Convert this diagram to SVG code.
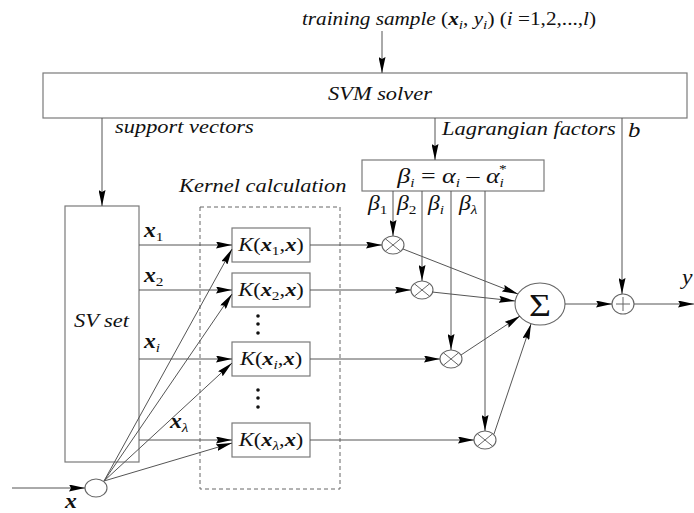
<svg xmlns="http://www.w3.org/2000/svg" width="694" height="513" viewBox="0 0 694 513">
<style>
.box{fill:#fff;stroke:#7a7a7a;stroke-width:1.2}
.dash{fill:none;stroke:#666;stroke-width:1;stroke-dasharray:4 3}
.ln{fill:none;stroke:#555;stroke-width:1}
.arr{marker-end:url(#ah)}
.nd{fill:#fff;stroke:#666;stroke-width:1.1}
.cr{fill:none;stroke:#666;stroke-width:1}
.t{font-family:"Liberation Serif","Times New Roman",serif;fill:#111;font-size:19px}
.it{font-style:italic}
.bi{font-style:italic;font-weight:bold}
.sub{font-size:13px;font-style:normal;font-weight:normal}
.subi{font-size:13px;font-style:italic;font-weight:normal}
.dot{fill:#111}
</style>
<defs>
<marker id="ah" markerUnits="userSpaceOnUse" markerWidth="16" markerHeight="7" refX="16" refY="3.5" orient="auto">
<path d="M0,0 L16,3.5 L0,7 L2,3.5 z" fill="#000"/>
</marker>
</defs>

<g id="training">
<text class="t" transform="scale(1.18 1)" x="255.9" y="25" style="font-size:18px"><tspan class="it">training sample </tspan>(<tspan class="bi">x</tspan><tspan class="subi" dy="4">i</tspan><tspan dy="-4">, </tspan><tspan class="it">y</tspan><tspan class="subi" dy="4">i</tspan><tspan dy="-4">) (</tspan><tspan class="it">i</tspan> =1,2,...,<tspan class="it">l</tspan>)</text>
</g>

<g id="svm-solver">
<rect class="box" x="43" y="73" width="644" height="45"/>
<text class="t it" transform="scale(1.18 1)" x="322" y="100" text-anchor="middle">SVM solver</text>
</g>

<g id="labels">
<text class="t it" transform="scale(1.18 1)" x="97.5" y="133">support vectors</text>
<text class="t it" transform="scale(1.18 1)" x="374.6" y="135">Lagrangian factors</text>
<text class="t it" transform="scale(1.18 1)" x="532.2" y="137" style="font-size:21px">b</text>
<text class="t bi" transform="scale(1.18 1)" x="122" y="237" style="font-size:20px">x<tspan class="sub" dy="4">1</tspan></text>
<text class="t bi" transform="scale(1.18 1)" x="122" y="282" style="font-size:20px">x<tspan class="sub" dy="4">2</tspan></text>
<text class="t bi" transform="scale(1.18 1)" x="122" y="348" style="font-size:20px">x<tspan class="subi" dy="4">i</tspan></text>
<text class="t bi" transform="scale(1.18 1)" x="144.1" y="428" style="font-size:20px">x<tspan class="subi" dy="4">λ</tspan></text>
<text class="t bi" transform="scale(1.18 1)" x="55.1" y="508" style="font-size:20px">x</text>
<text class="t it" transform="scale(1.18 1)" x="311.9" y="210" style="font-size:20px">β<tspan class="sub" dy="4">1</tspan></text>
<text class="t it" transform="scale(1.18 1)" x="336.4" y="210" style="font-size:20px">β<tspan class="sub" dy="4">2</tspan></text>
<text class="t it" transform="scale(1.18 1)" x="362.7" y="210" style="font-size:20px">β<tspan class="subi" dy="4">i</tspan></text>
<text class="t it" transform="scale(1.18 1)" x="389" y="210" style="font-size:20px">β<tspan class="subi" dy="4">λ</tspan></text>
<text class="t it" transform="scale(1.18 1)" x="578" y="284" style="font-size:20px">y</text>
</g>

<g id="sv-set">
<rect class="box" x="65" y="206" width="74" height="256"/>
<text class="t it" transform="scale(1.18 1)" x="62.7" y="327">SV set</text>
</g>

<g id="kernel-calculation">
<rect class="dash" x="200" y="207" width="140" height="282"/>
<text class="t it" transform="scale(1.18 1)" x="151.7" y="192">Kernel calculation</text>
</g>

<g id="k1">
<rect class="box" x="232" y="228" width="78" height="34"/>
<text class="t" transform="scale(1.18 1)" x="229.7" y="251" text-anchor="middle"><tspan class="it">K</tspan>(<tspan class="bi">x</tspan><tspan class="sub" dy="4">1</tspan><tspan dy="-4">,</tspan><tspan class="bi">x</tspan>)</text>
</g>
<g id="k2">
<rect class="box" x="232" y="273" width="78" height="34"/>
<text class="t" transform="scale(1.18 1)" x="229.7" y="296" text-anchor="middle"><tspan class="it">K</tspan>(<tspan class="bi">x</tspan><tspan class="sub" dy="4">2</tspan><tspan dy="-4">,</tspan><tspan class="bi">x</tspan>)</text>
</g>
<g id="ki">
<rect class="box" x="232" y="342" width="78" height="34"/>
<text class="t" transform="scale(1.18 1)" x="229.7" y="365" text-anchor="middle"><tspan class="it">K</tspan>(<tspan class="bi">x</tspan><tspan class="subi" dy="4">i</tspan><tspan dy="-4">,</tspan><tspan class="bi">x</tspan>)</text>
</g>
<g id="kl">
<rect class="box" x="232" y="423" width="78" height="34"/>
<text class="t" transform="scale(1.18 1)" x="229.7" y="446" text-anchor="middle"><tspan class="it">K</tspan>(<tspan class="bi">x</tspan><tspan class="subi" dy="4">λ</tspan><tspan dy="-4">,</tspan><tspan class="bi">x</tspan>)</text>
</g>
<g id="dots">
<circle class="dot" cx="258" cy="316" r="1.8"/><circle class="dot" cx="258" cy="324" r="1.8"/><circle class="dot" cx="258" cy="333" r="1.8"/>
<circle class="dot" cx="258" cy="390" r="1.8"/><circle class="dot" cx="258" cy="398" r="1.8"/><circle class="dot" cx="258" cy="407" r="1.8"/>
</g>

<g id="beta-box">
<rect class="box" x="362" y="160" width="182" height="31"/>
<text class="t it" transform="scale(1.18 1)" x="383.1" y="183" text-anchor="middle" style="font-size:22px">β<tspan class="subi" dy="4">i</tspan><tspan dy="-4" style="font-style:normal"> = </tspan>α<tspan class="subi" dy="4">i</tspan><tspan dy="-4" style="font-style:normal"> – </tspan>α<tspan class="subi" dy="4">i</tspan><tspan class="sub" dx="-4" dy="-14">*</tspan></text>
</g>

<g id="m1"><ellipse class="nd" cx="393" cy="245" rx="11" ry="9"/><path class="cr" d="M385.2,238.6 L400.8,251.4 M385.2,251.4 L400.8,238.6"/></g>
<g id="m2"><ellipse class="nd" cx="422" cy="290" rx="11" ry="9"/><path class="cr" d="M414.2,283.6 L429.8,296.4 M414.2,296.4 L429.8,283.6"/></g>
<g id="m3"><ellipse class="nd" cx="451" cy="359" rx="11" ry="9"/><path class="cr" d="M443.2,352.6 L458.8,365.4 M443.2,365.4 L458.8,352.6"/></g>
<g id="m4"><ellipse class="nd" cx="485" cy="440" rx="11" ry="9"/><path class="cr" d="M477.2,433.6 L492.8,446.4 M477.2,446.4 L492.8,433.6"/></g>

<g id="sum">
<ellipse class="nd" cx="540" cy="304" rx="25" ry="21"/>
<text class="t" transform="scale(1.18 1)" x="457.6" y="316" text-anchor="middle" style="font-size:32px">Σ</text>
</g>
<g id="plus">
<ellipse class="nd" cx="623" cy="304" rx="11" ry="10"/>
<path class="cr" d="M616,304 L630,304 M623,297 L623,311"/>
</g>
<g id="input">
<ellipse class="nd" cx="96" cy="488" rx="11" ry="9"/>
</g>

<g id="connectors">
<line class="ln arr" x1="382" y1="31" x2="382" y2="73"/>
<line class="ln arr" x1="102" y1="118" x2="102" y2="206"/>
<line class="ln arr" x1="435" y1="118" x2="435" y2="160"/>
<line class="ln arr" x1="622" y1="118" x2="622" y2="294"/>
<line class="ln arr" x1="12" y1="488" x2="85" y2="488"/>
<line class="ln arr" x1="139" y1="245" x2="232" y2="245"/>
<line class="ln arr" x1="139" y1="290" x2="232" y2="290"/>
<line class="ln arr" x1="139" y1="359" x2="232" y2="359"/>
<line class="ln arr" x1="139" y1="440" x2="232" y2="440"/>
<line class="ln arr" x1="104" y1="481" x2="232" y2="249"/>
<line class="ln arr" x1="104" y1="481" x2="232" y2="294"/>
<line class="ln arr" x1="104" y1="481" x2="232" y2="363"/>
<line class="ln arr" x1="104" y1="481" x2="232" y2="443"/>
<line class="ln arr" x1="310" y1="245" x2="382" y2="245"/>
<line class="ln arr" x1="310" y1="290" x2="411" y2="290"/>
<line class="ln arr" x1="310" y1="359" x2="440" y2="359"/>
<line class="ln arr" x1="310" y1="440" x2="474" y2="440"/>
<line class="ln arr" x1="393" y1="191" x2="393" y2="236"/>
<line class="ln arr" x1="422" y1="191" x2="422" y2="281"/>
<line class="ln arr" x1="451" y1="191" x2="451" y2="350"/>
<line class="ln arr" x1="485" y1="191" x2="485" y2="431"/>
<line class="ln arr" x1="403" y1="249" x2="518" y2="294"/>
<line class="ln arr" x1="432" y1="292" x2="515" y2="301"/>
<line class="ln arr" x1="461" y1="355" x2="520" y2="316"/>
<line class="ln arr" x1="494" y1="434" x2="531" y2="324"/>
<line class="ln arr" x1="565" y1="304" x2="612" y2="304"/>
<line class="ln arr" x1="634" y1="304" x2="694" y2="304"/>
</g>
</svg>
